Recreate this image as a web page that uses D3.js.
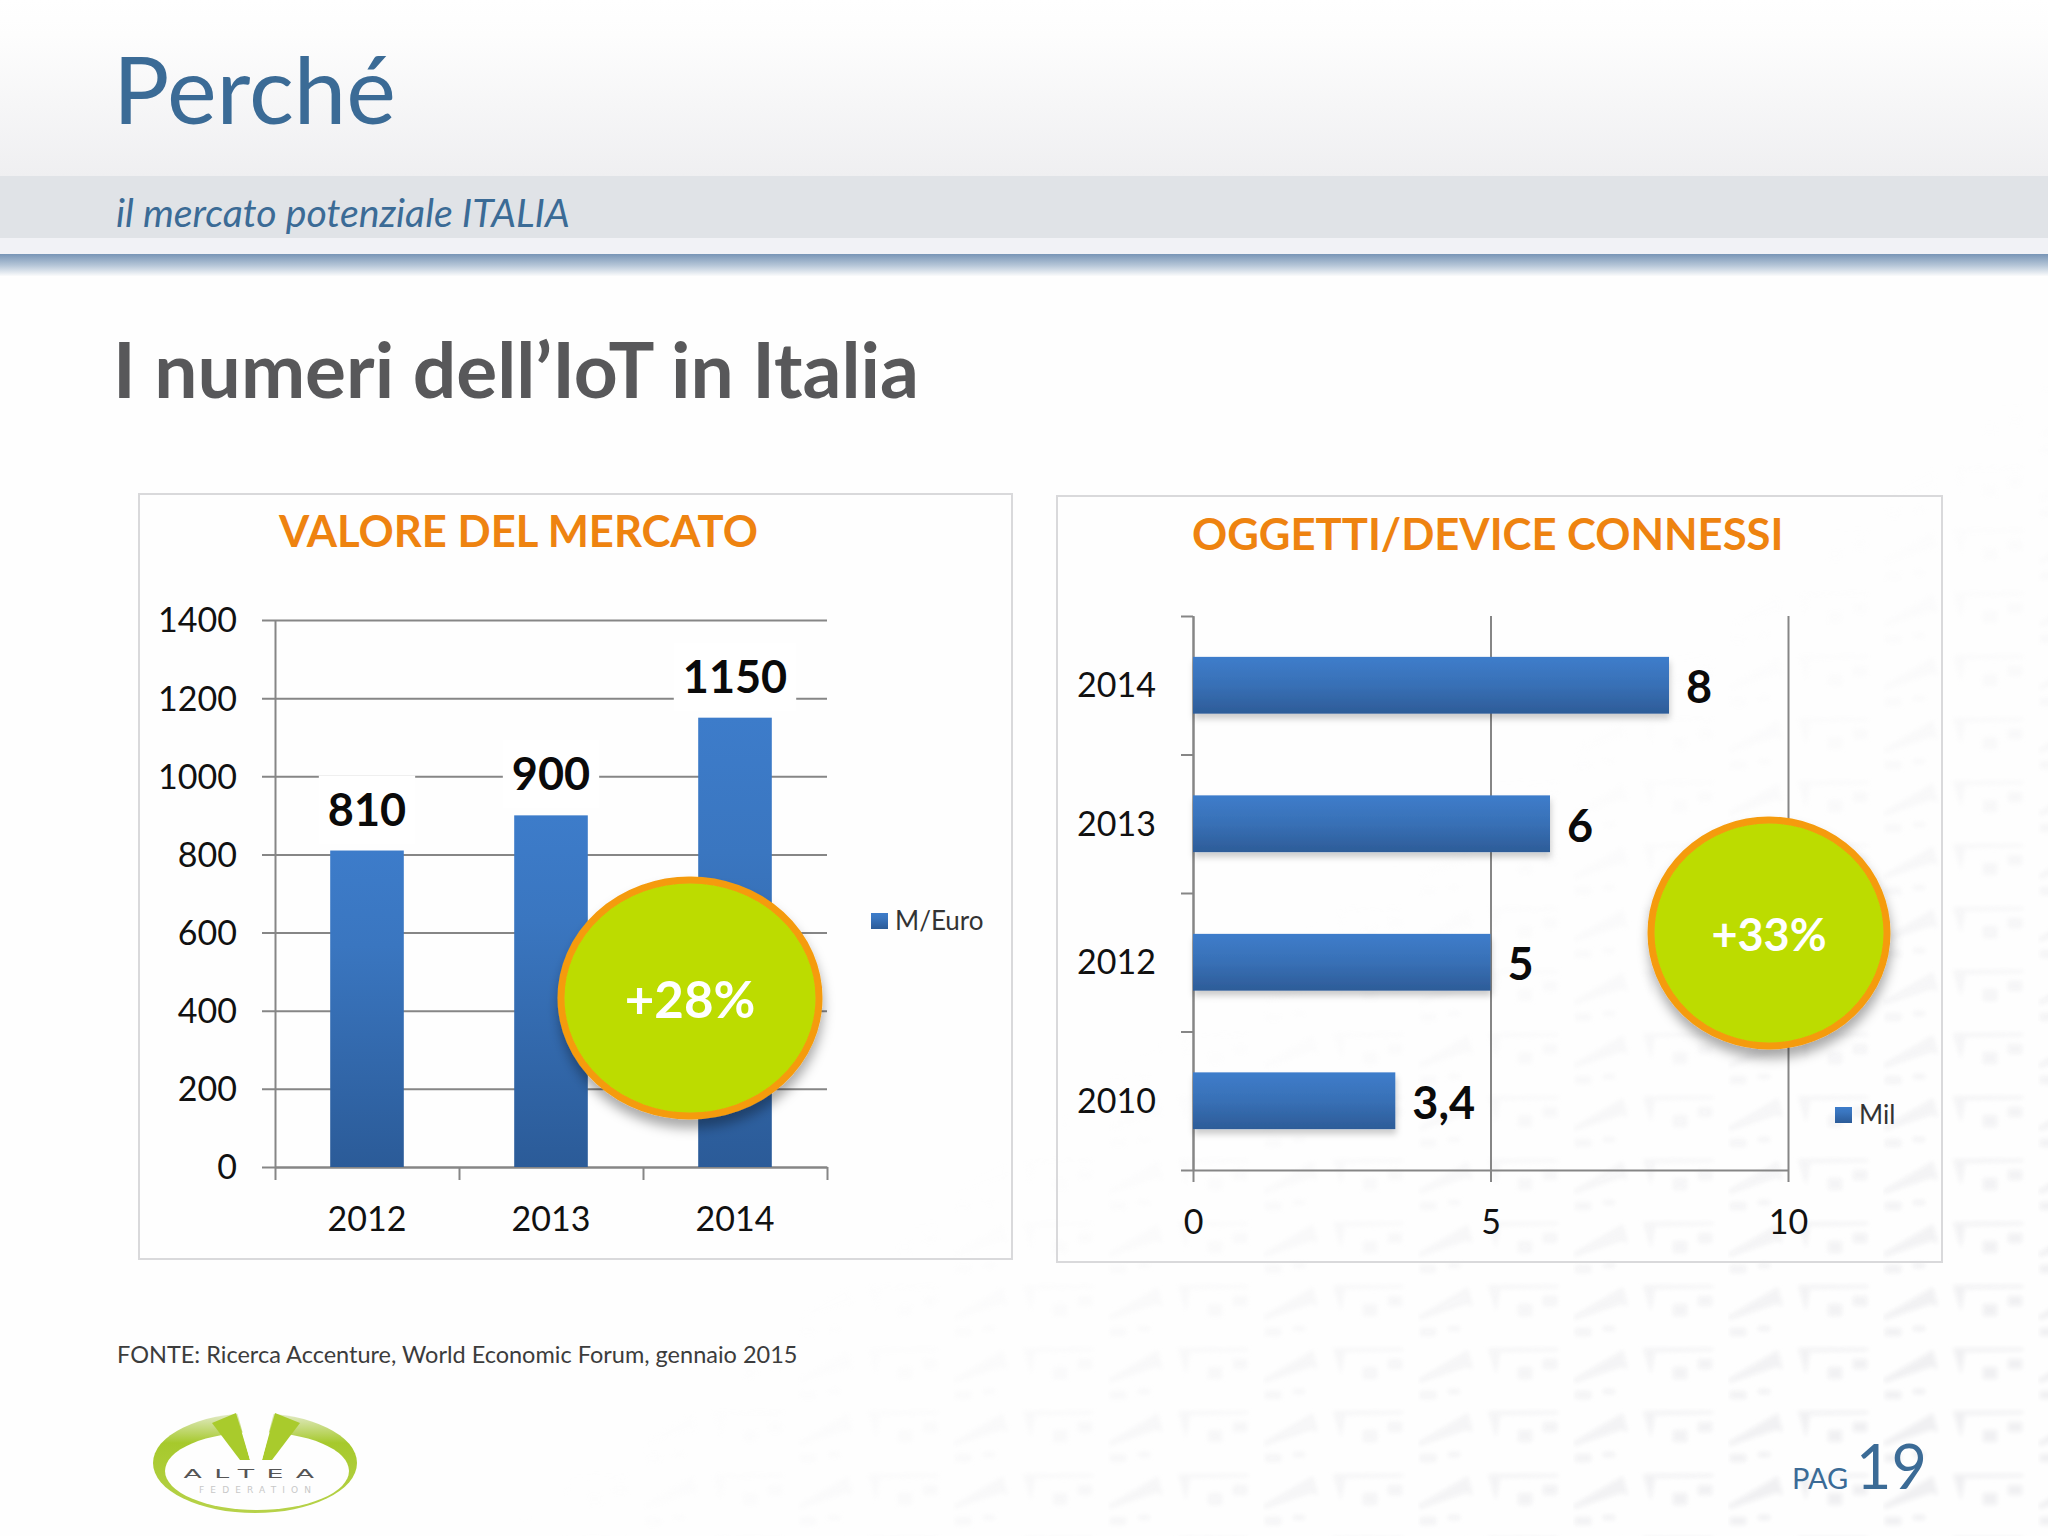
<!DOCTYPE html>
<html>
  <head>
    <title>Perché - I numeri dell'IoT in Italia</title>
    <meta charset="UTF-8" />
    <script src="https://d3js.org/d3.v7.min.js"></script>
    <style>
      html, body { margin: 0; padding: 0; background: #fefefe; }
      text { font-family: Lato, "Open Sans", sans-serif; }
      .axis path, .axis line { stroke: #868686; stroke-width: 2; fill: none; }
      .axis text { font-size: 34px; fill: #111; font-family: Lato, sans-serif; }
    </style>
  </head>
  <body>
    <div id="svg"></div>
    <script>
      const marketYears = ["2012", "2013", "2014"];
      const marketValues = [810, 900, 1150];
      const marketTicks = [0, 200, 400, 600, 800, 1000, 1200, 1400];
      const marketSeries = "M/Euro";

      const deviceYears = ["2014", "2013", "2012", "2010"];
      const deviceValues = [8, 6, 5, 3.4];
      const deviceTicks = [0, 5, 10];
      const deviceSeries = "Mil";

      const fullWidth = 2048;
      const fullHeight = 1536;
      const commaNum = (v) => String(v).replace(".", ",");

      const svg = d3.select("div#svg").append("svg")
        .attr("width", fullWidth).attr("height", fullHeight)
        .style("display", "block");
      const defs = svg.append("defs");

      function gradient(id, stops, vertical = true) {
        const g = defs.append("linearGradient").attr("id", id)
          .attr("x1", 0).attr("y1", 0)
          .attr("x2", vertical ? 0 : 1).attr("y2", vertical ? 1 : 0);
        stops.forEach((s) => g.append("stop").attr("offset", s[0]).attr("stop-color", s[1]).attr("stop-opacity", s[2] === undefined ? 1 : s[2]));
      }
      gradient("headerTop", [[0, "#ffffff"], [0.2, "#fdfdfd"], [1, "#efeff1"]]);
      gradient("headerBlue", [[0, "#7895b6"], [0.5, "#b3c4d6"], [1, "#fafbfc"]]);
      gradient("barV", [[0, "#3d7cca"], [0.3, "#3a76c0"], [1, "#2b5b98"]]);
      gradient("barH", [[0, "#3e7dcb"], [0.5, "#3870b6"], [1, "#2d5c98"]]);
      gradient("logoGreen", [[0, "#e4ebcc"], [0.3, "#a6c92c"], [1, "#b7d24a"]]);

      const shadow = defs.append("filter").attr("id", "soft")
        .attr("x", "-20%").attr("y", "-20%").attr("width", "140%").attr("height", "150%");
      shadow.append("feDropShadow").attr("dx", 1).attr("dy", 5).attr("stdDeviation", 3)
        .attr("flood-color", "#000").attr("flood-opacity", 0.2);
      const bubbleShadow = defs.append("filter").attr("id", "bubble")
        .attr("x", "-20%").attr("y", "-20%").attr("width", "140%").attr("height", "150%");
      bubbleShadow.append("feDropShadow").attr("dx", 1).attr("dy", 9).attr("stdDeviation", 6)
        .attr("flood-color", "#000").attr("flood-opacity", 0.33);
      defs.append("filter").attr("id", "blurTile").append("feGaussianBlur").attr("stdDeviation", 2);

      // faint watermark of the slide template, lower right
      const tile = defs.append("pattern").attr("id", "tile").attr("patternUnits", "userSpaceOnUse")
        .attr("x", 1418).attr("y", 1282).attr("width", 155).attr("height", 63);
      const tileG = tile.append("g").attr("fill", "#f0f0f2").attr("filter", "url(#blurTile)");
      tileG.append("path").attr("d", "M0,34 L50,5 L55,24 L48,22 L2,38 Z");
      tileG.append("path").attr("d", "M70,3 L83,3 L78,30 Z");
      tileG.append("path").attr("d", "M83,3 L140,3 L140,6 L83,7 Z");
      tileG.append("rect").attr("x", 100).attr("y", 22).attr("width", 14).attr("height", 12);
      tileG.append("rect").attr("x", 125).attr("y", 14).attr("width", 14).attr("height", 10);
      tileG.append("rect").attr("x", 2).attr("y", 46).attr("width", 16).attr("height", 8);
      tileG.append("rect").attr("x", 30).attr("y", 44).attr("width", 12).attr("height", 5);
      gradient("wmFade", [[0, "#fff", 0], [0.62, "#fff", 0], [0.92, "#fff", 1], [1, "#fff", 1]]);
      defs.select("#wmFade").attr("x1", 0).attr("y1", 0).attr("x2", 1).attr("y2", 1);
      defs.append("mask").attr("id", "wmMask").append("rect")
        .attr("width", fullWidth).attr("height", fullHeight).attr("fill", "url(#wmFade)");

      svg.append("rect").attr("width", fullWidth).attr("height", fullHeight).attr("fill", "#fefefe");
      svg.append("rect").attr("width", fullWidth).attr("height", fullHeight)
        .attr("fill", "url(#tile)").attr("mask", "url(#wmMask)");

      // header bands
      svg.append("rect").attr("width", fullWidth).attr("height", 176).attr("fill", "url(#headerTop)");
      svg.append("rect").attr("y", 176).attr("width", fullWidth).attr("height", 62).attr("fill", "#e0e3e7");
      svg.append("rect").attr("y", 238).attr("width", fullWidth).attr("height", 16).attr("fill", "#f1f2f6");
      svg.append("rect").attr("y", 254).attr("width", fullWidth).attr("height", 22).attr("fill", "url(#headerBlue)");

      function addText(txt, x, y, size, color, opts = {}) {
        return svg.append("text").attr("x", x).attr("y", y).text(txt)
          .attr("font-size", size).attr("fill", color)
          .attr("font-weight", opts.weight || 400)
          .attr("font-style", opts.style || "normal")
          .attr("text-anchor", opts.anchor || "start");
      }

      addText("Perché", 113, 124, 94, "#3b6b96");
      addText("il mercato potenziale ITALIA", 116, 227, 39.2, "#3b6b96", { style: "italic" });
      addText("I numeri dell’IoT in Italia", 113, 398, 76.7, "#58585a", { weight: 700 });
      addText("FONTE: Ricerca Accenture, World Economic Forum, gennaio 2015", 117, 1363, 23.5, "#3c3c3c");
      addText("PAG", 1792, 1489, 29, "#3b6b96");
      addText("19", 1856, 1489, 61, "#3b6b96");

      function panel(x, y, w, h) {
        svg.append("rect").attr("x", x).attr("y", y).attr("width", w).attr("height", h)
          .attr("fill", "none").attr("stroke", "#d9d9db").attr("stroke-width", 2);
      }

      function valueLabel(g, txt, x, y, anchor) {
        const t = g.append("text").attr("x", x).attr("y", y + 16).text(txt)
          .attr("text-anchor", anchor).attr("font-size", 45).attr("font-weight", 700).attr("fill", "#0a0a0a");
        const box = t.node().getBBox();
        g.insert("rect", "text").attr("x", box.x - 9).attr("y", y - 34)
          .attr("width", box.width + 18).attr("height", 68).attr("fill", "#fff");
        return t;
      }

      function bubble(cx, cy, rx, ry, label, size) {
        svg.append("ellipse").attr("cx", cx).attr("cy", cy).attr("rx", rx).attr("ry", ry)
          .attr("fill", "#bcdc00").attr("stroke", "#f59b0f").attr("stroke-width", 7)
          .attr("filter", "url(#bubble)");
        addText(label, cx, cy + 2 + size * 0.36, size, "#fff", { weight: 700, anchor: "middle" });
      }

      function legend(x, y, label) {
        svg.append("rect").attr("x", x).attr("y", y).attr("width", 17).attr("height", 16).attr("fill", "url(#barV)");
        addText(label, x + 24, y + 17, 26, "#333");
      }

      // left chart: VALORE DEL MERCATO
      panel(139, 494, 873, 765);
      addText("VALORE DEL MERCATO", 279, 547, 43.6, "#ee8310", { weight: 700 });

      const left = { x: 275, y: 620, w: 552, h: 547 };
      const gL = svg.append("g").attr("transform", `translate(${left.x},${left.y})`);
      const yMarket = d3.scaleLinear().domain([0, 1400]).range([left.h, 0]);
      const xMarket = d3.scaleBand().domain(marketYears).range([0, left.w]).paddingInner(0.6).paddingOuter(0.3);
      const xMarketEdges = d3.scaleLinear().domain([0, marketYears.length]).range([0, left.w]);

      const yAxisL = gL.append("g").attr("class", "axis")
        .call(d3.axisLeft(yMarket).tickValues(marketTicks).tickFormat(d3.format("d")).tickSize(13).tickSizeOuter(0).tickPadding(25));
      yAxisL.selectAll(".tick line").attr("x2", -13).attr("x1", left.w);
      yAxisL.selectAll(".tick text").attr("y", 1);

      gL.append("g").attr("class", "axis").attr("transform", `translate(0,${left.h})`)
        .call(d3.axisBottom(xMarketEdges).tickValues(d3.range(marketYears.length + 1)).tickSize(13).tickSizeOuter(0).tickFormat(""));
      const xLabelsL = gL.append("g").attr("class", "axis").attr("transform", `translate(0,${left.h})`)
        .call(d3.axisBottom(xMarket).tickSize(0).tickPadding(40));
      xLabelsL.select(".domain").remove();

      gL.selectAll("rect.bar").data(marketValues).join("rect").attr("class", "bar")
        .attr("x", (d, i) => xMarket(marketYears[i])).attr("width", xMarket.bandwidth())
        .attr("y", (d) => yMarket(d)).attr("height", (d) => left.h - yMarket(d))
        .attr("fill", "url(#barV)");
      marketValues.forEach((v, i) => {
        const lab = gL.append("g");
        valueLabel(lab, commaNum(v), xMarket(marketYears[i]) + xMarket.bandwidth() / 2, yMarket(v) - 41, "middle");
      });
      legend(871, 913, marketSeries);
      bubble(690, 998, 129, 118, "+28%", 51);

      // right chart: OGGETTI/DEVICE CONNESSI
      panel(1057, 496, 885, 766);
      addText("OGGETTI/DEVICE CONNESSI", 1192, 550, 43.6, "#ee8310", { weight: 700 });

      const right = { x: 1193, y: 616, w: 595, h: 554 };
      const gR = svg.append("g").attr("transform", `translate(${right.x},${right.y})`);
      const xDevice = d3.scaleLinear().domain([0, 10]).range([0, right.w]);
      const yDevice = d3.scaleBand().domain(deviceYears).range([0, right.h]).paddingInner(0.59).paddingOuter(0.295);
      const yDeviceEdges = d3.scaleLinear().domain([0, deviceYears.length]).range([0, right.h]);

      const xAxisR = gR.append("g").attr("class", "axis").attr("transform", `translate(0,${right.h})`)
        .call(d3.axisBottom(xDevice).tickValues(deviceTicks).tickSize(12).tickSizeOuter(0).tickPadding(28));
      xAxisR.selectAll(".tick line").attr("y1", -right.h);

      gR.append("g").attr("class", "axis")
        .call(d3.axisLeft(yDeviceEdges).tickValues(d3.range(deviceYears.length + 1)).tickSize(12).tickSizeOuter(0).tickFormat(""));
      const yLabelsR = gR.append("g").attr("class", "axis")
        .call(d3.axisLeft(yDevice).tickSize(0).tickPadding(37));
      yLabelsR.select(".domain").remove();
      yLabelsR.selectAll(".tick text").attr("y", 1);

      gR.selectAll("rect.bar").data(deviceValues).join("rect").attr("class", "bar")
        .attr("x", 0).attr("y", (d, i) => yDevice(deviceYears[i]))
        .attr("width", (d) => xDevice(d)).attr("height", yDevice.bandwidth())
        .attr("fill", "url(#barH)").attr("filter", "url(#soft)");
      deviceValues.forEach((v, i) => {
        const lab = gR.append("g");
        valueLabel(lab, commaNum(v), xDevice(v) + 17, yDevice(deviceYears[i]) + yDevice.bandwidth() / 2 + 2, "start");
        lab.select("rect").attr("fill", "none");
      });
      legend(1835, 1107, deviceSeries);
      bubble(1769, 933, 118, 113, "+33%", 45);

      // logo
      const logo = svg.append("g").attr("transform", "translate(255,1463)");
      logo.append("ellipse").attr("rx", 102).attr("ry", 50).attr("fill", "url(#logoGreen)");
      logo.append("ellipse").attr("cx", 2).attr("cy", 8).attr("rx", 92).attr("ry", 39).attr("fill", "#fefefe");
      logo.append("path").attr("d", "M-43,-40 L-19,-50 L-5,-3 L-15,-3 Z").attr("fill", "#a9cb2c");
      logo.append("path").attr("d", "M45,-40 L20,-50 L7,-3 L17,-3 Z").attr("fill", "#a9cb2c");
      logo.append("path").attr("d", "M-19,-55 L20,-55 L7,-3 L-5,-3 Z").attr("fill", "#fefefe");
      logo.append("text").attr("text-anchor", "middle").attr("y", 15).text("ALTEA")
        .attr("font-size", 13).attr("letter-spacing", 6).attr("fill", "#555").attr("textLength", 143)
        .attr("lengthAdjust", "spacingAndGlyphs").style("font-family", "'DejaVu Sans'");
      logo.append("text").attr("text-anchor", "middle").attr("y", 30).text("FEDERATION")
        .attr("font-size", 9).attr("fill", "#c8c8c8").attr("textLength", 112).style("font-family", "'DejaVu Sans'");
    </script>
  </body>
</html>
